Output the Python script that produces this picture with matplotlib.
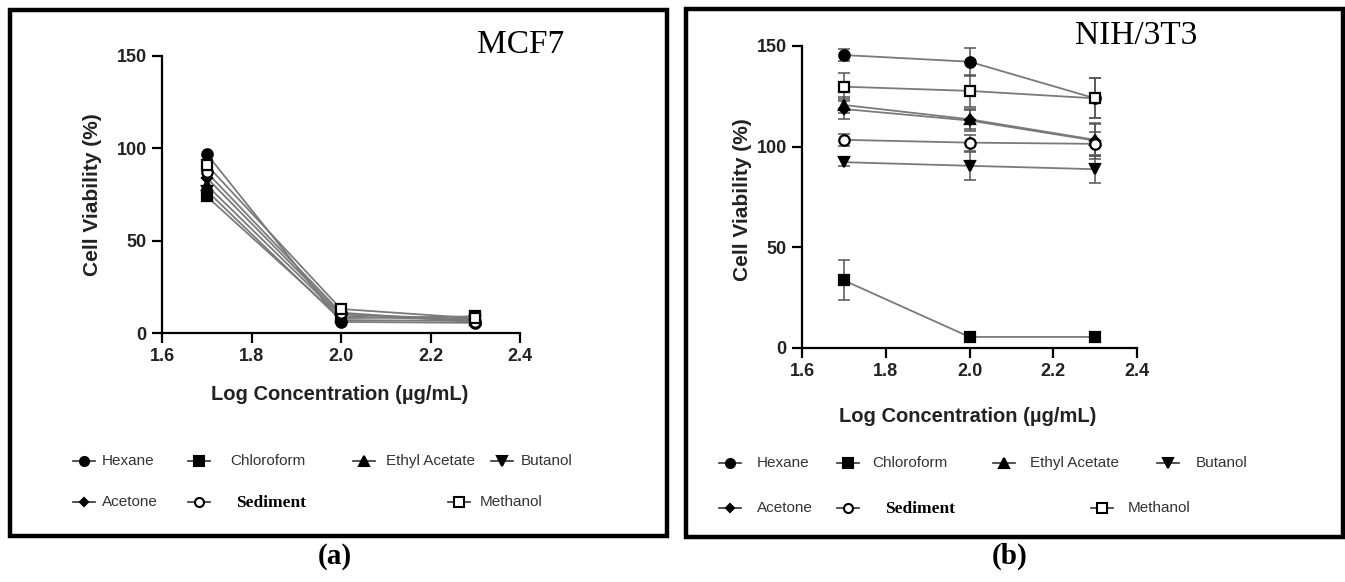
"""Cell viability of extracts on MCF7 and NIH/3T3, two framed panels side by side."""

import matplotlib
matplotlib.use("Agg")
import matplotlib.pyplot as plt  # noqa: E402
from matplotlib import font_manager  # noqa: E402
from matplotlib.lines import Line2D  # noqa: E402
from matplotlib.patches import Rectangle  # noqa: E402

W, H = 1345, 582

# ---- data -------------------------------------------------------------
log_conc = [1.7, 2.0, 2.3]
solvents = ["Hexane", "Chloroform", "Ethyl Acetate", "Butanol",
            "Acetone", "Sediment", "Methanol"]

mcf7_hexane = [97, 6, 5.5]
mcf7_chloroform = [74, 8, 9]
mcf7_ethyl_acetate = [80, 9, 7]
mcf7_butanol = [77, 7, 6.5]
mcf7_acetone = [84, 10, 7.5]
mcf7_sediment = [87, 11, 6]
mcf7_methanol = [91, 13, 8]

nih_hexane = [145.5, 142.2, 124]
nih_chloroform = [33.6, 5.5, 5.5]
nih_ethyl_acetate = [120.7, 113.6, 103.4]
nih_butanol = [92.3, 90.5, 88.8]
nih_acetone = [118.7, 113, 103]
nih_sediment = [103.4, 102, 101.4]
nih_methanol = [129.8, 127.7, 124]

nih_hexane_err = [3, 7, 10]
nih_chloroform_err = [10, 1, 1]
nih_ethyl_acetate_err = [4, 5, 8]
nih_butanol_err = [2, 7, 7]
nih_acetone_err = [5, 5, 9]
nih_sediment_err = [3, 4, 6]
nih_methanol_err = [7, 8, 10]

x_ticks = [1.6, 1.8, 2.0, 2.2, 2.4]
y_ticks = [0, 50, 100, 150]

mcf7 = [mcf7_hexane, mcf7_chloroform, mcf7_ethyl_acetate, mcf7_butanol,
        mcf7_acetone, mcf7_sediment, mcf7_methanol]
nih = [nih_hexane, nih_chloroform, nih_ethyl_acetate, nih_butanol,
       nih_acetone, nih_sediment, nih_methanol]
nih_err = [nih_hexane_err, nih_chloroform_err, nih_ethyl_acetate_err,
           nih_butanol_err, nih_acetone_err, nih_sediment_err, nih_methanol_err]

# marker, face colour, size
STYLE = {
    "Hexane": ("o", "black", 7.5),
    "Chloroform": ("s", "black", 7.5),
    "Ethyl Acetate": ("^", "black", 7.5),
    "Butanol": ("v", "black", 7.5),
    "Acetone": ("D", "black", 5.5),
    "Sediment": ("o", "white", 7.5),
    "Methanol": ("s", "white", 7.5),
}

installed = {f.name for f in font_manager.fontManager.ttflist}
NARROW = "Liberation Sans Narrow" if "Liberation Sans Narrow" in installed else "Liberation Sans"
SERIF = "Liberation Serif"
LINE = "#7a7a7a"


def fx(x):
    return x / W


def fy(y):
    return 1 - y / H


def style_axes(ax):
    for s in ("top", "right"):
        ax.spines[s].set_visible(False)
    for s in ("left", "bottom"):
        ax.spines[s].set_linewidth(1.6)
    ax.set_xlim(1.6, 2.4)
    ax.set_ylim(0, 150)
    ax.set_xticks(x_ticks)
    ax.set_xticklabels([f"{t:.1f}" for t in x_ticks])
    ax.set_yticks(y_ticks)
    ax.tick_params(width=1.6, length=7, pad=4, labelsize=13)
    for lab in ax.get_xticklabels() + ax.get_yticklabels():
        lab.set_fontfamily(NARROW)
        lab.set_fontweight("bold")
        lab.set_color("#222")
    ax.patch.set_alpha(0)


def draw(ax, series, errs=None):
    for i, (name, vals) in enumerate(zip(solvents, series)):
        m, fc, ms = STYLE[name]
        ax.plot(log_conc, vals, color=LINE, lw=1.3, zorder=2, clip_on=False)
        if errs is not None:
            ax.errorbar(log_conc, vals, yerr=errs[i], fmt="none", ecolor="#555",
                        elinewidth=1.1, capsize=4, capthick=1.1, zorder=3, clip_on=False)
        ax.plot(log_conc, vals, ls="none", marker=m, ms=ms, mfc=fc, mec="black",
                mew=1.6, zorder=4, clip_on=False)


def legend(fig, rows_y, entries):
    # entries: (solvent, row, marker_x, text_x) in pixels
    for name, row, mx, tx in entries:
        y = rows_y[row]
        m, fc, ms = STYLE[name]
        fig.add_artist(Line2D([fx(mx - 11), fx(mx + 11)], [fy(y), fy(y)],
                              transform=fig.transFigure, color="#333", lw=1.2))
        fig.add_artist(Line2D([fx(mx)], [fy(y)], transform=fig.transFigure,
                              marker=m, ms=ms - 1, mfc=fc, mec="black", mew=1.5))
        if name == "Sediment":
            fig.text(fx(tx), fy(y + 1), name, family=SERIF, weight="bold",
                     fontsize=12.5, va="center", ha="left")
        else:
            fig.text(fx(tx), fy(y), name, family=NARROW, fontsize=11,
                     va="center", ha="left", color="#333")


fig = plt.figure(figsize=(W / 100, H / 100), dpi=100)

# frames
fig.add_artist(Rectangle((fx(10), fy(536)), fx(657), 526 / H, transform=fig.transFigure,
                         fill=False, lw=3.2, ec="black"))
fig.add_artist(Rectangle((fx(686), fy(537)), fx(657), 528 / H, transform=fig.transFigure,
                         fill=False, lw=3.2, ec="black"))

# panel (a)
ax1 = fig.add_axes([fx(162), fy(333), fx(520 - 162), (333 - 56) / H])
style_axes(ax1)
draw(ax1, mcf7)
fig.text(fx(477), fy(45), "MCF7", family=SERIF, fontsize=24, va="center", ha="left")
fig.text(fx(92), fy(195), "Cell Viability (%)", family=NARROW, weight="bold",
         fontsize=15, rotation=90, va="center", ha="center", color="#222")
fig.text(fx(340), fy(395), "Log Concentration (µg/mL)", family=NARROW, weight="bold",
         fontsize=14.5, va="center", ha="center", color="#222")
legend(fig, [461, 502], [
    ("Hexane", 0, 84, 102), ("Chloroform", 0, 199, 230),
    ("Ethyl Acetate", 0, 364, 386), ("Butanol", 0, 502, 521),
    ("Acetone", 1, 84, 102), ("Sediment", 1, 199, 236), ("Methanol", 1, 459, 480),
])
fig.text(fx(335), fy(556), "(a)", family=SERIF, weight="bold", fontsize=21,
         va="center", ha="center")

# panel (b)
ax2 = fig.add_axes([fx(802), fy(348), fx(1137 - 802), (348 - 46) / H])
style_axes(ax2)
draw(ax2, nih, nih_err)
fig.text(fx(1075), fy(36), "NIH/3T3", family=SERIF, fontsize=24, va="center", ha="left")
fig.text(fx(742), fy(200), "Cell Viability (%)", family=NARROW, weight="bold",
         fontsize=15, rotation=90, va="center", ha="center", color="#222")
fig.text(fx(968), fy(417), "Log Concentration (µg/mL)", family=NARROW, weight="bold",
         fontsize=14.5, va="center", ha="center", color="#222")
legend(fig, [463, 508], [
    ("Hexane", 0, 730, 757), ("Chloroform", 0, 848, 872),
    ("Ethyl Acetate", 0, 1004, 1030), ("Butanol", 0, 1168, 1196),
    ("Acetone", 1, 730, 757), ("Sediment", 1, 848, 885), ("Methanol", 1, 1102, 1128),
])
fig.text(fx(1010), fy(556), "(b)", family=SERIF, weight="bold", fontsize=21,
         va="center", ha="center")

fig.savefig("out.png", dpi=100)
